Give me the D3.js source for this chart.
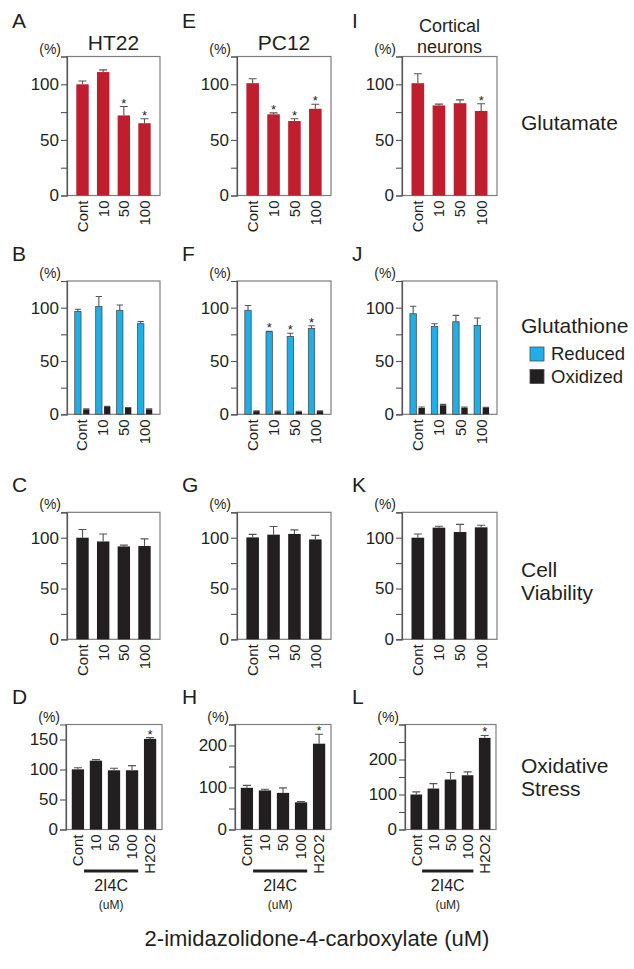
<!DOCTYPE html>
<html>
<head>
<meta charset="utf-8">
<script src="https://cdn.jsdelivr.net/npm/d3@7"></script>
<style>
  body { margin: 0; background: #fff; }
  svg { display: block; font-family: "Liberation Sans", Arial, sans-serif; }
</style>
</head>
<body>
<svg id="fig" width="634" height="969"></svg>
<script>
// categories
var doses = ["Cont", "10", "50", "100"];
var stressGroups = ["Cont", "10", "50", "100", "H2O2"];
var cellLines = ["HT22", "PC12", "Cortical neurons"];
var gshSeries = ["Reduced", "Oxidized"];

// Glutamate (A, E, I)
var gluHT22 = [100, 111, 72, 65];
var gluHT22Err = [3, 2, 8, 4];
var gluPC12 = [101, 73, 67, 78];
var gluPC12Err = [4, 1.3, 2, 4];
var gluCort = [101, 81, 83, 76];
var gluCortErr = [8.5, 1.2, 3, 6.5];
var gluSig = [[0, 0, 1, 1], [0, 1, 1, 1], [0, 0, 0, 1]];

// Glutathione (B, F, J)
var gshRedHT22 = [96.5, 101, 97.5, 85];
var gshRedHT22Err = [2, 9.5, 5, 2];
var gshOxHT22 = [4.7, 6.9, 5.9, 4.7];
var gshOxHT22Err = [0.5, 0.5, 0.5, 0.4];
var gshRedPC12 = [97.5, 77.4, 73, 80.5];
var gshRedPC12Err = [4.5, 0.4, 3, 2.5];
var gshOxPC12 = [3, 2.8, 2.5, 3];
var gshOxPC12Err = [0.3, 0.3, 0.3, 0.3];
var gshRedCort = [94.3, 82.4, 86.8, 83.3];
var gshRedCortErr = [7, 2.5, 6, 7];
var gshOxCort = [5.9, 8.5, 5.9, 5.9];
var gshOxCortErr = [1, 0.8, 0.8, 0.6];
var gshSig = [[0, 0, 0, 0], [0, 1, 1, 1], [0, 0, 0, 0]];

// Cell viability (C, G, K)
var viaHT22 = [100, 96.3, 91.4, 91.8];
var viaHT22Err = [8, 7.3, 1.3, 7];
var viaPC12 = [100.3, 103, 103.7, 98.3];
var viaPC12Err = [3, 8, 4, 4];
var viaCort = [100, 109.9, 105.6, 110.2];
var viaCortErr = [3.6, 1.3, 7.5, 2];

// Oxidative stress (D, H, L)
var oxHT22 = [100.3, 114.7, 98.7, 98.7, 151];
var oxHT22Err = [2.7, 1.7, 3.3, 7.8, 2.2];
var oxPC12 = [99.3, 93, 87.2, 64.6, 204.3];
var oxPC12Err = [5.7, 3, 12, 1.7, 22.5];
var oxCort = [100, 117, 142.8, 155, 261.8];
var oxCortErr = [7.6, 14, 20, 9.6, 6.8];
var oxSig = [0, 0, 0, 0, 1];

// y axes
var pctTicks = [0, 25, 50, 75, 100, 125];
var pctLabels = [0, 50, 100];
var oxTicksD = [0, 50, 100, 150];
var oxTicksH = [0, 50, 100, 150, 200, 250];
var oxTicksL = [0, 50, 100, 150, 200, 250, 300];
var oxLabelsHL = [0, 100, 200];

var red = "#be1e2d", blue = "#1fafe8", black = "#231f20";

var svg = d3.select("#fig");
var font = "'Liberation Sans', Arial, sans-serif";

var cols = [{x: 67, w: 93}, {x: 237, w: 94}, {x: 402, w: 95}];
var rows = [
  {top: 56.5, bottom: 195.5},
  {top: 281, bottom: 414.3},
  {top: 512.3, bottom: 639.3},
  {top: 724.5, bottom: 829.5}
];
var oxCols = [{x: 66, w: 96}, {x: 235, w: 96}, {x: 405, w: 91}];
var letterX = [12, 182, 352];
var letterY = [28, 261, 492, 704];
var letters = [["A", "E", "I"], ["B", "F", "J"], ["C", "G", "K"], ["D", "H", "L"]];

function drawPanel(p) {
  var g = svg.append("g");
  var y = d3.scaleLinear().domain([0, p.max]).range([p.bottom, p.top]);
  var x = d3.scaleBand().domain(p.cats).range([p.x, p.x + p.w])
      .paddingInner(p.pi).paddingOuter(p.po);
  var xi = d3.scaleBand().domain(p.series.map(function(s) { return s.name; }))
      .range([0, x.bandwidth()]).paddingInner(p.series.length > 1 ? 0.25 : 0);

  g.append("rect")
      .attr("x", p.x).attr("y", p.top)
      .attr("width", p.w).attr("height", p.bottom - p.top)
      .attr("fill", "none").attr("stroke", "#7d7d7d").attr("stroke-width", 1.2);

  var ax = g.append("g")
      .attr("transform", "translate(" + p.x + ",0)")
      .call(d3.axisLeft(y).tickValues(p.ticks).tickSize(6).tickPadding(2)
        .tickFormat(function(d) { return p.labels.indexOf(d) >= 0 ? d : ""; }));
  ax.select(".domain").attr("stroke", "#555").attr("stroke-width", 1.2);
  ax.selectAll(".tick line").attr("stroke", "#555").attr("stroke-width", 1.1);
  ax.selectAll(".tick text").attr("fill", black)
      .style("font-size", "17px").style("font-family", font);

  p.series.forEach(function(s) {
    var bw = xi.bandwidth();
    var idx = d3.range(s.values.length);
    var bx = function(i) { return x(p.cats[i]) + xi(s.name); };
    g.selectAll(null).data(idx).enter().append("rect")
        .attr("x", function(i) { return bx(i); })
        .attr("y", function(i) { return y(s.values[i]); })
        .attr("width", bw)
        .attr("height", function(i) { return p.bottom - y(s.values[i]); })
        .attr("fill", s.color)
        .attr("stroke", s.stroke || "none")
        .attr("stroke-width", 0.8);
    // error bars (upper only)
    g.selectAll(null).data(idx).enter().append("path")
        .attr("d", function(i) {
          var cx = bx(i) + bw / 2, y0 = y(s.values[i]), y1 = y(s.values[i] + s.errs[i]);
          var cw = Math.min(4, bw / 2);
          return "M" + cx + "," + y0 + "V" + y1 + "M" + (cx - cw) + "," + y1 + "H" + (cx + cw);
        })
        .attr("fill", "none").attr("stroke", "#555").attr("stroke-width", 1.1);
    if (s.sig) {
      g.selectAll(null).data(idx.filter(function(i) { return s.sig[i]; })).enter()
        .append("text")
          .attr("x", function(i) { return bx(i) + bw / 2; })
          .attr("y", function(i) { return y(s.values[i] + s.errs[i]) + 1; })
          .attr("text-anchor", "middle")
          .style("font-size", "13px").style("font-family", font)
          .style("fill", black)
          .text("*");
    }
  });

  g.selectAll(null).data(p.cats).enter().append("text")
      .attr("transform", function(d) {
        return "translate(" + (x(d) + x.bandwidth() / 2) + "," + (p.bottom + 5) + ") rotate(-90)";
      })
      .attr("text-anchor", "end").attr("dy", "0.36em")
      .style("font-size", "15px").style("font-family", font)
      .attr("fill", black)
      .text(function(d) { return d; });

  g.append("text")
      .attr("x", p.x - 6).attr("y", p.top - 3)
      .attr("text-anchor", "end")
      .style("font-size", "14px").style("font-family", font)
      .attr("fill", black)
      .text("(%)");

  if (p.bracket) {
    g.append("line")
        .attr("x1", x("Cont") + x.bandwidth()).attr("x2", x("100") + x.bandwidth())
        .attr("y1", 871).attr("y2", 871)
        .attr("stroke", black).attr("stroke-width", 3);
    var mid = (x("Cont") + x("100") + 2 * x.bandwidth()) / 2;
    g.append("text").attr("x", mid).attr("y", 891).attr("text-anchor", "middle")
        .style("font-size", "16px").style("font-family", font).attr("fill", black)
        .text("2I4C");
    g.append("text").attr("x", mid).attr("y", 909).attr("text-anchor", "middle")
        .style("font-size", "12px").style("font-family", font).attr("fill", black)
        .text("(uM)");
  }
  return {x: x, y: y};
}

var glu = [[gluHT22, gluHT22Err], [gluPC12, gluPC12Err], [gluCort, gluCortErr]];
var gshRed = [[gshRedHT22, gshRedHT22Err], [gshRedPC12, gshRedPC12Err], [gshRedCort, gshRedCortErr]];
var gshOx = [[gshOxHT22, gshOxHT22Err], [gshOxPC12, gshOxPC12Err], [gshOxCort, gshOxCortErr]];
var via = [[viaHT22, viaHT22Err], [viaPC12, viaPC12Err], [viaCort, viaCortErr]];
var ox = [[oxHT22, oxHT22Err], [oxPC12, oxPC12Err], [oxCort, oxCortErr]];
var oxTicks = [oxTicksD, oxTicksH, oxTicksL];
var oxLabels = [oxTicksD, oxLabelsHL, oxLabelsHL];
var oxMax = [175, 250, 300];

cols.forEach(function(c, ci) {
  // row 1
  drawPanel({x: c.x, w: c.w, top: rows[0].top, bottom: rows[0].bottom, max: 125,
    ticks: pctTicks, labels: pctLabels, cats: doses, pi: 0.4, po: 0.45,
    series: [{name: "v", values: glu[ci][0], errs: glu[ci][1], color: red, sig: gluSig[ci]}]});
  // row 2
  drawPanel({x: c.x, w: c.w, top: rows[1].top, bottom: rows[1].bottom, max: 125,
    ticks: pctTicks, labels: pctLabels, cats: doses, pi: 0.3, po: 0.37,
    series: [
      {name: gshSeries[0], values: gshRed[ci][0], errs: gshRed[ci][1], color: blue, stroke: "#4a4a4a", sig: gshSig[ci]},
      {name: gshSeries[1], values: gshOx[ci][0], errs: gshOx[ci][1], color: black}
    ]});
  // row 3
  drawPanel({x: c.x, w: c.w, top: rows[2].top, bottom: rows[2].bottom, max: 125,
    ticks: pctTicks, labels: pctLabels, cats: doses, pi: 0.4, po: 0.45,
    series: [{name: "v", values: via[ci][0], errs: via[ci][1], color: black}]});
  // row 4
  var oc = oxCols[ci];
  drawPanel({x: oc.x, w: oc.w, top: rows[3].top, bottom: rows[3].bottom, max: oxMax[ci],
    ticks: oxTicks[ci], labels: oxLabels[ci], cats: stressGroups, pi: 0.32, po: 0.32,
    series: [{name: "v", values: ox[ci][0], errs: ox[ci][1], color: black, sig: oxSig}],
    bracket: true});
});

// panel letters
letters.forEach(function(r, ri) {
  r.forEach(function(l, ci) {
    svg.append("text").attr("x", letterX[ci]).attr("y", letterY[ri])
        .style("font-size", "21px").style("font-family", font).attr("fill", black)
        .text(l);
  });
});

// column titles
svg.append("text").attr("x", cols[0].x + cols[0].w / 2).attr("y", 50)
    .attr("text-anchor", "middle").style("font-size", "21px").style("font-family", font)
    .attr("fill", black).text(cellLines[0]);
svg.append("text").attr("x", cols[1].x + cols[1].w / 2).attr("y", 50)
    .attr("text-anchor", "middle").style("font-size", "21px").style("font-family", font)
    .attr("fill", black).text(cellLines[1]);
var ct = svg.append("text").attr("x", cols[2].x + cols[2].w / 2).attr("y", 32)
    .attr("text-anchor", "middle").style("font-size", "18px").style("font-family", font)
    .attr("fill", black);
cellLines[2].split(" ").forEach(function(w, i) {
  ct.append("tspan").attr("x", cols[2].x + cols[2].w / 2).attr("dy", i ? 20.5 : 0).text(w);
});

// row labels
function rowLabel(lines, y0, dy) {
  var t = svg.append("text").attr("x", 521).attr("y", y0)
      .style("font-size", "21px").style("font-family", font).attr("fill", black);
  lines.forEach(function(w, i) {
    t.append("tspan").attr("x", 521).attr("dy", i ? dy : 0).text(w);
  });
}
rowLabel(["Glutamate"], 130, 0);
rowLabel(["Glutathione"], 333, 0);
rowLabel(["Cell", "Viability"], 577, 23);
rowLabel(["Oxidative", "Stress"], 773, 23);

// glutathione legend
var leg = svg.append("g");
[blue, black].forEach(function(c, i) {
  leg.append("rect").attr("x", 530).attr("y", 347 + i * 22.5).attr("width", 14).attr("height", 14)
      .attr("fill", c).attr("stroke", "#4a4a4a").attr("stroke-width", 0.8);
  leg.append("text").attr("x", 551).attr("y", 360 + i * 23)
      .style("font-size", "18.5px").style("font-family", font).attr("fill", black)
      .text(gshSeries[i]);
});

// bottom title
svg.append("text").attr("x", 317).attr("y", 946).attr("text-anchor", "middle")
    .style("font-size", "22px").style("font-family", font).attr("fill", black)
    .text("2-imidazolidone-4-carboxylate (uM)");
</script>
</body>
</html>
